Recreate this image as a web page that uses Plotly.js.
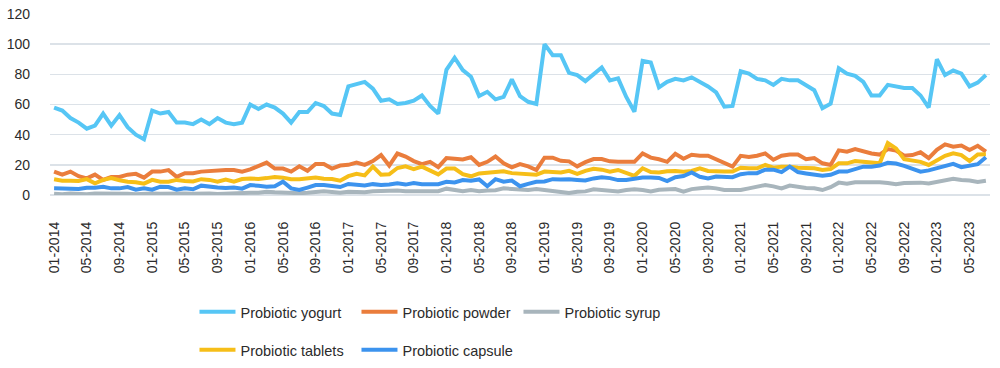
<!DOCTYPE html>
<html>
<head>
<meta charset="utf-8">
<script src="https://cdn.plot.ly/plotly-3.0.1.min.js"></script>
<style>
  html, body { margin: 0; padding: 0; background: #fff; }
  #chart { width: 1000px; height: 368px; }
</style>
</head>
<body>
<div id="chart"></div>
<script>
// Monthly categories 01-2014 .. 07-2023
const startYear = 2014, startMonth = 1, monthCount = 115;
const months = [];
for (let k = 0; k < monthCount; k++) {
  const m = (startMonth - 1 + k) % 12 + 1;
  const y = startYear + Math.floor((startMonth - 1 + k) / 12);
  months.push((m < 10 ? '0' : '') + m + '-' + y);
}
const tickLabels = months.filter((_, k) => k % 4 === 0);

const yogurt = [58,56,51,48,44,46,54,46,53,45,40,37,56,54,55,48,48,47,50,47,
  51,48,47,48,60,57,60,58,54,48,55,55,61,59,54,53,72,73.5,75,70.5,
  62.5,63.4,60.3,61,62.5,66,59,54,83,91,82.8,78.4,65.6,68.4,63.4,65,76.6,65.6,61.8,60.3,
  100,92.7,92.7,81,79.5,75.5,80,84.5,76,77.3,65,55.2,89,87.9,71.3,75,77,76,78,75,
  72,68,58.5,59,82,80.5,77,76,73,77,76,76,73,69.5,57.5,60.5,84,80.5,79,75,
  66,66,73,72,71,71,66,58,90,79.5,82.5,80.5,72,74.5,79.5];

const powder = [15.5,13.5,15.5,12.5,11,13.5,10,12,12,13.5,14,11.5,15.5,15.5,16.5,12,14.5,14.5,15.5,16,
  16.5,16.5,16.5,15.5,17,19.5,21.5,17.5,17.5,15.5,19,16,20.5,20.5,17.5,19.5,20,21.5,20,22.5,
  26.5,19.5,27.5,25.5,22.5,20.5,22,18.5,24.5,24,23.5,25,20,22,25.5,21,18.3,20.5,19,16.6,
  24.7,24.7,22.7,22.3,19,21.8,23.8,23.8,22.3,22,22,22,27.6,24.8,23.7,22,27.3,24,26.7,26,
  26,23.5,21,18.8,26,25.2,26,27.6,23.4,26,26.9,26.9,23.7,24.5,21,19.9,29.6,28.7,30.4,29,
  27.5,26.8,30.5,29.5,26,26.5,28.3,24.5,30,33.6,32,32.8,29.8,32.6,28.7];

const syrup = [0.8,0.5,1,0.8,0.5,1,1,0.8,1.2,0.8,0.5,1,1,0.8,1,1.3,1,0.8,1,1,
  0.7,1,0.8,1.2,1.5,1.5,2.2,1.8,1.5,1.2,1.2,1.5,2,2.5,2,1.5,2.2,2,1.8,2.5,
  2.8,2.5,3,2.5,2.2,2.5,2.5,2.5,4.2,3.2,2.5,3.3,2.5,3,3.2,4.4,4.2,4,3.3,4,
  3.3,2.4,2.2,1.3,2.2,2.4,3.8,3.3,3.3,2.4,3.3,3.8,3.3,2.4,3.5,4,3.9,2.2,3.9,4.4,
  5,4.4,3.3,3.3,3.3,4.4,5.5,6.6,5.7,4.4,6.3,5.3,4.7,4.4,3.3,5.2,8.2,7.5,8.5,8.5,
  8.6,8.5,8,7.1,8,8.3,8.2,7.7,8.7,9.7,10.8,9.9,9.6,8.6,9.4];

const tablets = [10.5,9.5,9.5,9.3,10.5,7.7,10,11.2,9.8,8.8,8.5,7.5,10,8.8,8.8,10,9.3,9,10.5,10,
  8.8,10.2,8.8,10.6,11,10.6,11.2,12,11.5,10.5,10.5,11.3,11.6,10.8,10.6,9.5,12.5,14,13,18.8,
  13.5,13.7,17.9,19,17.2,18.8,16.3,13.7,17.5,17.5,13.8,12.4,14.3,14.9,15.5,15.7,14.5,14,13.5,13.5,
  15.5,14.9,14.9,16,14,16,17.4,16.8,15.5,16.6,14.3,12.7,17.7,15.2,14.9,15.8,15.9,15.5,15.9,17.7,
  15.9,15.5,15.5,15.5,18.1,17.7,17.7,19.9,18.1,18.8,18.8,18.1,17.7,17.7,16.6,17.2,21,21,22.5,22,
  21.6,21,34.5,30.9,23.8,23.2,22,19.9,23.2,26,27.6,26.5,22.5,26.9,27];

const capsule = [4.4,4.4,4.4,4,4.8,4.8,5.5,4.4,4.4,5.3,3.5,4.4,3.5,5.5,5.3,3.5,4.4,3.8,6.2,5.3,
  4.9,4.6,5,4.2,6.6,6.1,5.5,5.8,8.8,4.4,3.3,4.9,6.6,6.6,6,5.3,7.3,7,6.3,7.2,
  6.6,6.9,7.7,6.9,8,7.2,7.2,7.2,8.8,8.3,9.9,9.4,10.3,5.8,10.5,8.8,9.6,5.8,7.4,8.8,
  9,10.5,10.3,10.5,10,9.6,11,11.8,11.2,9.9,9.9,10.7,11.6,11.6,11.3,9.2,11.8,12.6,14.9,12.1,
  11,12.3,11.8,11.8,13.8,14.5,14.5,16.8,16.8,15.2,18.8,15.2,14.3,13.5,12.7,13.4,15.5,15.5,17,18.8,
  18.8,19.5,21.3,20.9,19.3,17.7,15.5,16.3,17.9,19.6,20.7,18.5,19.3,20.4,25];

const seriesNames = ['Probiotic yogurt','Probiotic powder','Probiotic syrup','Probiotic tablets','Probiotic capsule'];
const seriesValues = [yogurt, powder, syrup, tablets, capsule];
const seriesColors = ['#56C6F5','#EA7D3C','#A8B5BC','#F6BE18','#3C93EE'];
const seriesLegend = ['legend','legend','legend','legend2','legend2'];

const traces = seriesNames.map((name, s) => ({
  type: 'scatter', mode: 'lines', name: name,
  x: months, y: seriesValues[s],
  line: { color: seriesColors[s], width: 4, shape: 'linear' },
  legend: seriesLegend[s],
  hoverinfo: 'skip'
}));

const fontFam = 'Liberation Sans, Arial, sans-serif';
const legendBase = {
  orientation: 'h', xanchor: 'left', yanchor: 'middle',
  entrywidth: 111, entrywidthmode: 'pixels',
  font: { family: fontFam, size: 14.5, color: '#2b2b2b' },
  bgcolor: 'rgba(0,0,0,0)', borderwidth: 0,
  itemwidth: 36, traceorder: 'normal'
};

const layout = {
  width: 1000, height: 368,
  margin: { l: 50, r: 10, t: 14, b: 173, autoexpand: false },
  paper_bgcolor: '#ffffff', plot_bgcolor: '#ffffff',
  showlegend: true,
  xaxis: {
    type: 'category', range: [-0.5, monthCount - 0.5],
    tickmode: 'array', tickvals: tickLabels, ticktext: tickLabels,
    tickangle: -90, ticks: '', showgrid: false, zeroline: false, showline: false,
    ticklabelstandoff: 23, automargin: false,
    tickfont: { family: fontFam, size: 14, color: '#2b2b2b' }
  },
  yaxis: {
    range: [0, 120], tickmode: 'array', tickvals: [0,20,40,60,80,100,120],
    showgrid: true, gridcolor: '#DCE2E8', gridwidth: 1.5,
    zeroline: true, zerolinecolor: '#DCE2E8', zerolinewidth: 1.5,
    showline: false, ticks: '', ticklabelstandoff: 19, automargin: false,
    tickfont: { family: fontFam, size: 14, color: '#2b2b2b' }
  },
  legend: Object.assign({}, legendBase, { x: 0.1537, y: -0.646 }),
  legend2: Object.assign({}, legendBase, { x: 0.1537, y: -0.856 })
};

Plotly.newPlot('chart', traces, layout, { displayModeBar: false, staticPlot: true });
</script>
</body>
</html>
